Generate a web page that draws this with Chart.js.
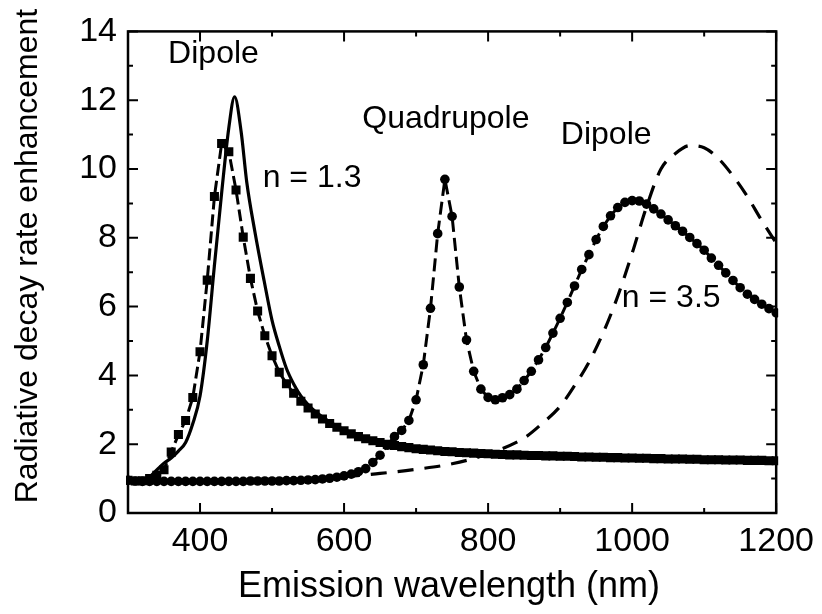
<!DOCTYPE html>
<html><head><meta charset="utf-8">
<script src="https://cdn.jsdelivr.net/npm/chart.js@4/dist/chart.umd.min.js"></script>
<style>html,body{margin:0;padding:0;background:#fff;}#wrap{width:822px;height:614px;}</style>
</head><body><div id="wrap"><canvas id="c" width="822" height="614"></canvas></div>
<script>
// ---- data ----
const wavelengths = [300,310,320,330,340,350,360,370,380,390,400,410,420,430,440,450,460,470,480,490,500,510,520,530,540,550,560,570,580,590,600,610,620,630,640,650,660,670,680,690,700,710,720,730,740,750,760,770,780,790,800,810,820,830,840,850,860,870,880,890,900,910,920,930,940,950,960,970,980,990,1000,1010,1020,1030,1040,1050,1060,1070,1080,1090,1100,1110,1120,1130,1140,1150,1160,1170,1180,1190,1200];
const squaresN13 = [0.95,0.93,0.94,1.00,1.10,1.26,1.77,2.28,2.69,3.36,
4.69,6.77,9.20,10.74,10.50,9.39,8.02,6.82,5.87,5.15,
4.57,4.09,3.76,3.48,3.25,3.05,2.88,2.73,2.60,2.49,
2.39,2.30,2.22,2.16,2.10,2.05,2.00,1.96,1.93,1.90,
1.87,1.85,1.83,1.81,1.79,1.78,1.76,1.75,1.74,1.73,
1.72,1.71,1.70,1.69,1.69,1.68,1.67,1.67,1.66,1.66,
1.65,1.65,1.64,1.63,1.63,1.62,1.62,1.61,1.61,1.60,
1.60,1.59,1.59,1.58,1.58,1.57,1.57,1.57,1.56,1.56,
1.55,1.55,1.55,1.54,1.54,1.54,1.53,1.53,1.53,1.52,1.52];
const circlesN35 = [0.95,0.93,0.92,0.92,0.92,0.92,0.92,0.92,0.92,0.92,
0.92,0.92,0.92,0.92,0.92,0.92,0.92,0.93,0.93,0.93,
0.93,0.93,0.94,0.94,0.95,0.96,0.97,0.99,1.01,1.04,
1.08,1.13,1.20,1.29,1.47,1.68,1.97,2.22,2.40,2.69,
3.29,4.31,5.95,8.12,9.70,8.62,6.57,5.03,4.12,3.60,
3.36,3.29,3.35,3.44,3.60,3.85,4.12,4.45,4.81,5.23,
5.66,6.12,6.60,7.08,7.51,7.95,8.33,8.64,8.88,9.03,
9.08,9.07,8.98,8.84,8.69,8.52,8.35,8.19,8.01,7.83,
7.64,7.41,7.20,6.98,6.76,6.55,6.36,6.21,6.07,5.94,5.82];
const solidX = [300,310,320,330,340,350,360,370,380,390,400,410,420,430,440,448,457,465,476,489,500,510,520,530,540,550,560,580,600,650,700,750,800,900,1000,1100,1200];
const solidY = [0.97,0.95,0.97,1.05,1.25,1.45,1.60,1.80,2.05,2.60,3.40,5.00,7.20,9.30,11.20,12.10,11.10,9.60,8.20,6.75,5.60,4.85,4.20,3.75,3.40,3.15,2.95,2.65,2.42,2.06,1.90,1.81,1.75,1.67,1.61,1.56,1.53];
const dashX = [300,400,500,600,650,700,750,800,850,875,900,920,940,960,980,1000,1020,1040,1060,1080,1100,1120,1140,1160,1180,1200];
const dashY = [0.95,0.93,0.95,1.05,1.15,1.27,1.43,1.72,2.18,2.60,3.10,3.70,4.38,5.25,6.30,7.55,8.90,10.00,10.45,10.68,10.62,10.30,9.80,9.20,8.50,7.85];
const xTickLabels = [400,600,800,1000,1200];
const xMinorTicks = [300,400,500,600,700,800,900,1000,1100,1200];
const yTickLabels = [0,2,4,6,8,10,12,14];
const yMinorTicks = [0,1,2,3,4,5,6,7,8,9,10,11,12,13,14];
const annotationText = ['Dipole','n = 1.3','Quadrupole','Dipole','n = 3.5'];
const annotationX = [355.7,487,625.3,901,985.7];
const annotationY = [13.08,9.47,11.19,10.72,6.0];
const xTitle = 'Emission wavelength (nm)';
const yTitle = 'Radiative decay rate enhancement';

const pts = (xs, ys) => xs.map((v,i)=>({x:v,y:ys[i]}));
const FONT = '"Liberation Sans", Arial, Helvetica, sans-serif';

const frame = {
  id:'frame',
  afterDatasetsDraw(chart){
    const {ctx, chartArea:a, scales:{x,y}} = chart;
    ctx.save();
    ctx.strokeStyle='#000';
    ctx.lineWidth=2;
    ctx.beginPath();
    xMinorTicks.forEach(v=>{
      const px = x.getPixelForValue(v);
      const len = xTickLabels.includes(v)?10:5;
      ctx.moveTo(px,a.bottom); ctx.lineTo(px,a.bottom-len);
      ctx.moveTo(px,a.top); ctx.lineTo(px,a.top+len);
    });
    yMinorTicks.forEach(v=>{
      const py = y.getPixelForValue(v);
      const len = yTickLabels.includes(v)?10:5;
      ctx.moveTo(a.left,py); ctx.lineTo(a.left+len,py);
      ctx.moveTo(a.right,py); ctx.lineTo(a.right-len,py);
    });
    ctx.stroke();
    ctx.lineWidth=2.5;
    ctx.strokeRect(a.left,a.top,a.right-a.left,a.bottom-a.top);
    ctx.fillStyle='#000';
    ctx.font='32px '+FONT;
    ctx.textBaseline='alphabetic';
    ctx.textAlign='left';
    annotationText.forEach((t,i)=>{
      ctx.fillText(t, x.getPixelForValue(annotationX[i]), y.getPixelForValue(annotationY[i]));
    });
    ctx.textAlign='center';
    ctx.font='36px '+FONT;
    ctx.fillText(xTitle, 449, 597);
    ctx.font='32px '+FONT;
    ctx.translate(37, 256);
    ctx.rotate(-Math.PI/2);
    ctx.fillText(yTitle, 0, 0);
    ctx.restore();
  }
};

new Chart(document.getElementById('c'), {
  type:'line',
  data:{datasets:[
    {data:pts(solidX,solidY), borderColor:'#000', borderWidth:3.2, pointRadius:0, tension:0.4, cubicInterpolationMode:'monotone', clip:2},
    {data:pts(wavelengths,squaresN13), borderColor:'#000', borderWidth:3, borderDash:[12,5], pointStyle:'rect', pointRadius:6.4, pointBorderWidth:0, pointBackgroundColor:'#000', tension:0, clip:2},
    {data:pts(wavelengths,circlesN35), borderColor:'#000', borderWidth:3, borderDash:[13,6], pointStyle:'circle', pointRadius:4.8, pointBorderWidth:0, pointBackgroundColor:'#000', tension:0, clip:2},
    {data:pts(dashX,dashY), borderColor:'#000', borderWidth:3.2, borderDash:[16,11], pointRadius:0, tension:0.4, cubicInterpolationMode:'monotone', clip:2}
  ]},
  options:{
    responsive:false, animation:false, events:[],
    devicePixelRatio:1,
    layout:{padding:{left:0,top:29,right:43,bottom:0}},
    plugins:{legend:{display:false}, tooltip:{enabled:false}},
    scales:{
      x:{type:'linear', min:300, max:1200,
        afterBuildTicks:s=>{s.ticks = xTickLabels.map(v=>({value:v}));},
        afterFit:s=>{s.height=101;},
        grid:{display:false, drawTicks:false}, border:{display:false},
        ticks:{color:'#000', font:{family:FONT,size:34}, padding:8, autoSkip:false, maxRotation:0, callback:v=>String(v)}
      },
      y:{type:'linear', min:0, max:14,
        afterBuildTicks:s=>{s.ticks = yTickLabels.map(v=>({value:v}));},
        afterFit:s=>{s.width=128;},
        grid:{display:false, drawTicks:false}, border:{display:false},
        ticks:{color:'#000', font:{family:FONT,size:34}, padding:11, autoSkip:false, callback:v=>String(v)}
      }
    }
  },
  plugins:[frame]
});
</script></body></html>
